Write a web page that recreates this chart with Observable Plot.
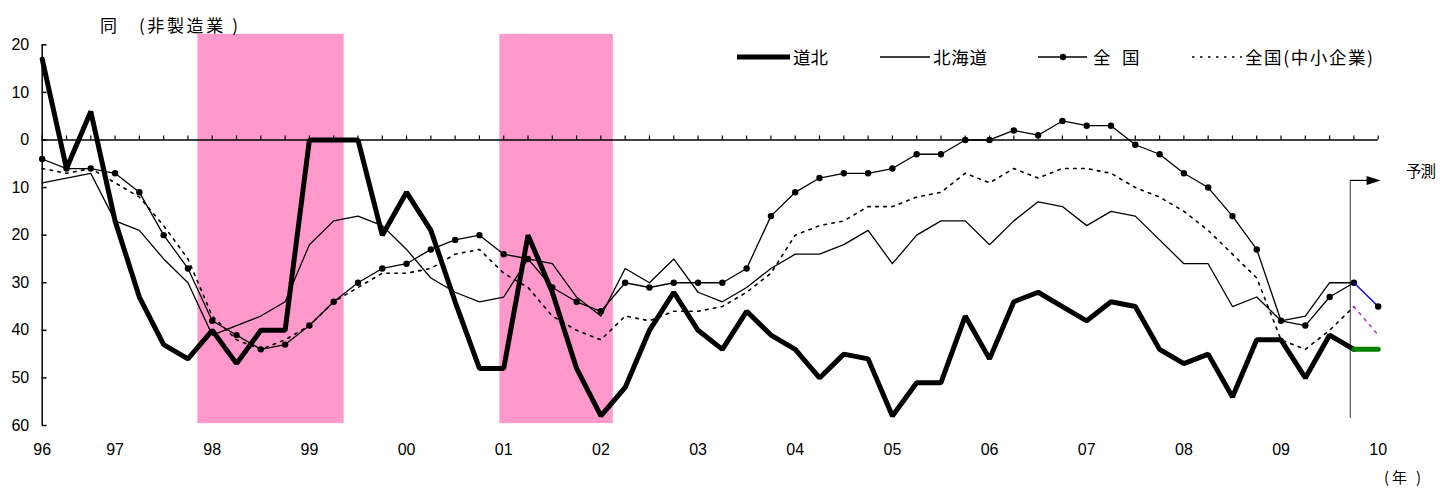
<!DOCTYPE html>
<html>
<head>
<meta charset="utf-8">
<script src="https://cdn.jsdelivr.net/npm/d3@7"></script>
<script src="https://cdn.jsdelivr.net/npm/@observablehq/plot@0.6"></script>
<style>
  body { margin: 0; background: #fff; }
  #wrap { position: relative; width: 1444px; height: 488px; }
  #overlay { position: absolute; left: 0; top: 0; pointer-events: none; }
  .jp { font-family: "Noto Sans CJK JP", sans-serif; fill: #000; }
</style>
</head>
<body>
<div id="wrap"></div>
<script>
// 業況判断DI（非製造業）— quarterly, 96 Q1 .. 09 Q4 actuals, 10 Q1 forecast
const yearLabels    = ["96","97","98","99","00","01","02","03","04","05","06","07","08","09","10"];
const yearTickIndex = [0, 3, 7, 11, 15, 19, 23, 27, 31, 35, 39, 43, 47, 51, 55];
const yTicks = [20, 10, 0, -10, -20, -30, -40, -50, -60];

// 道北
const dohoku = [17, -6, 6, -17, -33, -43, -46, -40, -47, -40, -40, 0, 0, 0, -20, -11, -19, -34, -48, -48,
  -20, -32, -48, -58, -52, -40, -32, -40, -44, -36, -41, -44, -50, -45, -46, -58, -51, -51, -37, -46,
  -34, -32, -35, -38, -34, -35, -44, -47, -45, -54, -42, -42, -50, -41, -44];
const dohokuForecast = -44;

// 北海道
const hokkaido = [-9, -8, -7, -17, -19, -25, -30, -41, -39, -37, -34, -22, -17, -16, -18, -23, -29, -32, -34, -33,
  -25, -26, -33, -37, -27, -30, -25, -32, -34, -31, -27, -24, -24, -22, -19, -26, -20, -17, -17, -22,
  -17, -13, -14, -18, -15, -16, -21, -26, -26, -35, -33, -38, -37, -30, -30];

// 全国
const zenkoku = [-4, -6, -6, -7, -11, -20, -27, -38, -41, -44, -43, -39, -34, -30, -27, -26, -23, -21, -20, -24,
  -25, -31, -34, -36, -30, -31, -30, -30, -30, -27, -16, -11, -8, -7, -7, -6, -3, -3, 0, 0,
  2, 1, 4, 3, 3, -1, -3, -7, -10, -16, -23, -38, -39, -33, -30];
const zenkokuForecast = -35;

// 全国（中小企業）
const smallBiz = [-6, -7, -6, -9, -12, -18, -25, -37, -42, -44, -42, -39, -34, -31, -28, -28, -27, -24, -23, -28,
  -31, -37, -40, -42, -37, -38, -36, -36, -35, -32, -28, -20, -18, -17, -14, -14, -12, -11, -7, -9,
  -6, -8, -6, -6, -7, -10, -12, -15, -19, -24, -29, -42, -44, -40, -35];
const smallBizForecast = -41;

// shaded recession periods (quarter index start, end) and their vertical extent
const recessions = [[6.41, 12.43], [18.84, 23.51]];
const shadeTop = 22.2, shadeBottom = -59.6;

// forecast divider and arrow
const forecastDivider = 53.85;
const dividerTop = -8.5, dividerBottom = -58.5;
const arrowTip = 55.1;

const lastActual = dohoku.length - 1;
const forecastIdx = dohoku.length;
const quarters = d3.range(forecastIdx + 1);

const seg = (arr, f) => [{i: lastActual, v: arr[lastActual]}, {i: forecastIdx, v: f}];

const arrowHead = {
  draw(ctx) {
    ctx.moveTo(7, 0);
    ctx.lineTo(-7, -4.5);
    ctx.lineTo(-7, 4.5);
    ctx.closePath();
  }
};

const chart = Plot.plot({
  width: 1444,
  height: 488,
  marginLeft: 41.7,
  marginRight: 66.3,
  marginTop: 44.3,
  marginBottom: 63,
  x: {domain: [0, forecastIdx], axis: null, label: null},
  y: {domain: [-60, 20], axis: null, label: null},
  style: {fontFamily: "'Liberation Sans', Arial, sans-serif", fontSize: "16px", background: "#fff", color: "#000", overflow: "visible"},
  marks: [
    Plot.rect(recessions, {x1: d => d[0], x2: d => d[1], y1: shadeBottom, y2: shadeTop, fill: "#ff99cc"}),
    // axes
    Plot.axisY({ticks: yTicks, tickFormat: d => Math.abs(d), tickSize: 0, tickPadding: 13, fontSize: 16, label: null}),
    Plot.axisX({ticks: yearTickIndex, tickFormat: i => yearLabels[yearTickIndex.indexOf(i)], tickSize: 0, tickPadding: 18.5, fontSize: 16, label: null}),
    Plot.ruleX([0], {stroke: "#000", strokeWidth: 1.5}),
    Plot.ruleY(yTicks, {x1: 0, x2: 0.2, stroke: "#000", strokeWidth: 1.5}),
    Plot.ruleY([0], {stroke: "#000", strokeWidth: 1.5}),
    Plot.ruleX(quarters, {y1: 0, y2: 0.85, stroke: "#000", strokeWidth: 1.2}),
    // forecast divider
    Plot.ruleX([forecastDivider], {y1: dividerBottom, y2: dividerTop, stroke: "#333", strokeWidth: 1}),
    Plot.link([0], {x1: forecastDivider, x2: arrowTip - 0.4, y1: dividerTop, y2: dividerTop, stroke: "#000", strokeWidth: 1.2}),
    Plot.dot([0], {x: arrowTip - 0.29, y: dividerTop, symbol: arrowHead, fill: "#000", stroke: "none"}),
    // series
    Plot.line(smallBiz, {x: (d, i) => i, y: d => d, stroke: "#000", strokeWidth: 1.6, strokeDasharray: "2.5,5.5"}),
    Plot.line(hokkaido, {x: (d, i) => i, y: d => d, stroke: "#000", strokeWidth: 1.3}),
    Plot.line(zenkoku, {x: (d, i) => i, y: d => d, stroke: "#000", strokeWidth: 1.3}),
    Plot.dot(zenkoku, {x: (d, i) => i, y: d => d, r: 3.2, fill: "#000", stroke: "none"}),
    Plot.line(dohoku, {x: (d, i) => i, y: d => d, stroke: "#000", strokeWidth: 5, strokeLinejoin: "miter"}),
    // forecast segments
    Plot.line(seg(smallBiz, smallBizForecast), {x: "i", y: "v", stroke: "#b040c0", strokeWidth: 1.6, strokeDasharray: "2.5,5.5"}),
    Plot.line(seg(zenkoku, zenkokuForecast), {x: "i", y: "v", stroke: "#1010e0", strokeWidth: 1.6}),
    Plot.dot([{i: forecastIdx, v: zenkokuForecast}], {x: "i", y: "v", r: 3.2, fill: "#000", stroke: "none"}),
    Plot.line(seg(dohoku, dohokuForecast), {x: "i", y: "v", stroke: "#008000", strokeWidth: 5})
  ]
});

const wrap = document.getElementById("wrap");
wrap.appendChild(chart);

// title, legend and notes
const ov = d3.select(wrap).append("svg")
  .attr("id", "overlay").attr("width", 1444).attr("height", 488);

const txt = (x, y, s, size, len) => {
  const t = ov.append("text").attr("class", "jp").attr("x", x).attr("y", y)
    .attr("font-size", size).text(s);
  if (len) t.attr("textLength", len).attr("lengthAdjust", "spacing");
  return t;
};

txt(100, 32, "同", 17);
txt(139, 32, "(非製造業 )", 17, 99);

// legend
const ly = 57;
ov.append("line").attr("x1", 737).attr("x2", 790).attr("y1", ly).attr("y2", ly).attr("stroke", "#000").attr("stroke-width", 5);
txt(793, 64, "道北", 17.5, 35);
ov.append("line").attr("x1", 880).attr("x2", 930).attr("y1", ly).attr("y2", ly).attr("stroke", "#000").attr("stroke-width", 1.3);
txt(933, 64, "北海道", 17.5, 54);
ov.append("line").attr("x1", 1038).attr("x2", 1087).attr("y1", ly).attr("y2", ly).attr("stroke", "#000").attr("stroke-width", 1.3);
ov.append("circle").attr("cx", 1063).attr("cy", ly).attr("r", 3.2).attr("fill", "#000");
txt(1093, 64, "全", 17.5);
txt(1122, 64, "国", 17.5);
ov.append("line").attr("x1", 1192).attr("x2", 1242).attr("y1", ly).attr("y2", ly).attr("stroke", "#000").attr("stroke-width", 1.6).attr("stroke-dasharray", "2.5,5.5");
txt(1245, 64, "全国(中小企業)", 17.5, 128);

txt(1406, 177, "予測", 15.5, 30);
txt(1384, 483, "(年 )", 15, 37);
</script>
</body>
</html>
